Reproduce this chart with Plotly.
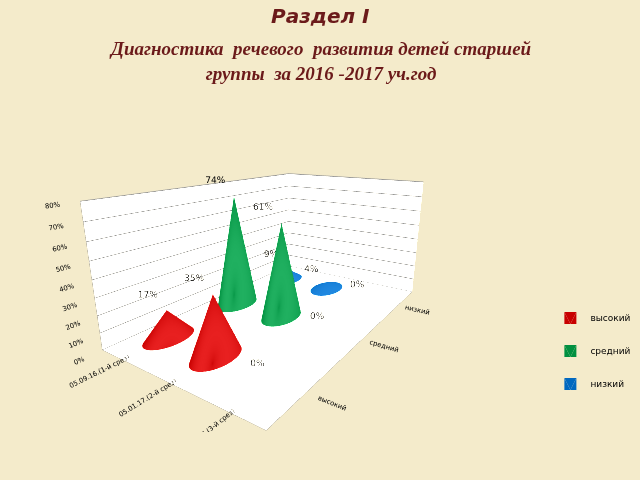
import numpy as np
import plotly.graph_objects as go

categories = ["05.09.16.(1-й срез)", "05.01.17.(2-й срез)", "15.03.17.(3-й срез)"]
series = ["высокий", "средний", "низкий"]
values = {
    "высокий": [17, 35, 0],
    "средний": [74, 61, 0],
    "низкий": [9, 4, 0],
}
colors = {"высокий": "#c80000", "средний": "#009040", "низкий": "#0068c0"}
z_ticks = [0, 10, 20, 30, 40, 50, 60, 70, 80]


def cone_mesh(cx, cy, h, r=0.28, n=40):
    t = np.linspace(0, 2 * np.pi, n, endpoint=False)
    xs = list(cx + r * np.cos(t)) + [cx, cx]
    ys = list(cy + r * np.sin(t)) + [cy, cy]
    zs = [0] * n + [h, 0]
    i, j, k = [], [], []
    for a in range(n):
        b = (a + 1) % n
        i += [a, a]
        j += [b, b]
        k += [n, n + 1]
    return xs, ys, zs, i, j, k


fig = go.Figure()
for si, s in enumerate(series):
    first = True
    for ci, v in enumerate(values[s]):
        if v > 0:
            xs, ys, zs, i, j, k = cone_mesh(ci, si, v)
            fig.add_trace(go.Mesh3d(
                x=xs, y=ys, z=zs, i=i, j=j, k=k, color=colors[s],
                flatshading=False, name=s, legendgroup=s, showlegend=first,
                lighting=dict(ambient=0.65, diffuse=0.6, specular=0.5, roughness=0.4),
                lightposition=dict(x=-300, y=-200, z=300),
                hoverinfo="skip",
            ))
            first = False
    fig.add_trace(go.Scatter3d(
        x=list(range(len(categories))), y=[si] * len(categories),
        z=[v + 2 for v in values[s]], mode="text", textposition="top left",
        text=[f"{v}%" for v in values[s]], textfont=dict(size=9, color="black"),
        showlegend=False, hoverinfo="skip",
    ))

axis_common = dict(showbackground=True, backgroundcolor="rgba(255,255,255,0.35)",
                   gridcolor="#999999", linecolor="#888888", showspikes=False,
                   tickfont=dict(size=9, color="black"), title="")
fig.update_layout(
    width=640, height=480,
    paper_bgcolor="#f4ebcb",
    margin=dict(l=0, r=0, t=0, b=0),
    font=dict(family="DejaVu Sans"),
    annotations=[
        dict(text="<b><i>Раздел I</i></b>", x=0.5, y=0.995, xref="paper", yref="paper",
             showarrow=False, yanchor="top", font=dict(size=20, color="#6b1a1a", family="DejaVu Sans")),
        dict(text="<b><i>Диагностика  речевого  развития детей старшей<br>группы  за 2016 -2017 уч.год</i></b>",
             x=0.5, y=0.925, xref="paper", yref="paper", showarrow=False, yanchor="top",
             font=dict(size=19, color="#6b1a1a", family="Liberation Serif")),
    ],
    legend=dict(x=0.86, y=0.17, font=dict(size=9, color="black"), bgcolor="rgba(0,0,0,0)", tracegroupgap=14),
    scene=dict(
        domain=dict(x=[0.0, 0.88], y=[0.1, 0.8]),
        xaxis=dict(axis_common, tickvals=[0, 1, 2], ticktext=categories, range=[-0.5, 2.5], showgrid=False),
        yaxis=dict(axis_common, tickvals=[0, 1, 2], ticktext=series, range=[-0.5, 2.5], showgrid=False),
        zaxis=dict(axis_common, tickvals=z_ticks, ticktext=[f"{t}%" for t in z_ticks], range=[0, 80]),
        aspectmode="manual", aspectratio=dict(x=1.1, y=1.8, z=0.8),
        camera=dict(eye=dict(x=1.35, y=-1.95, z=0.7), center=dict(x=0, y=0, z=-0.05),
                    projection=dict(type="perspective")),
    ),
)
fig.write_html("out.html", config={"displayModeBar": False},
               post_script="document.body.style.margin='0';")
